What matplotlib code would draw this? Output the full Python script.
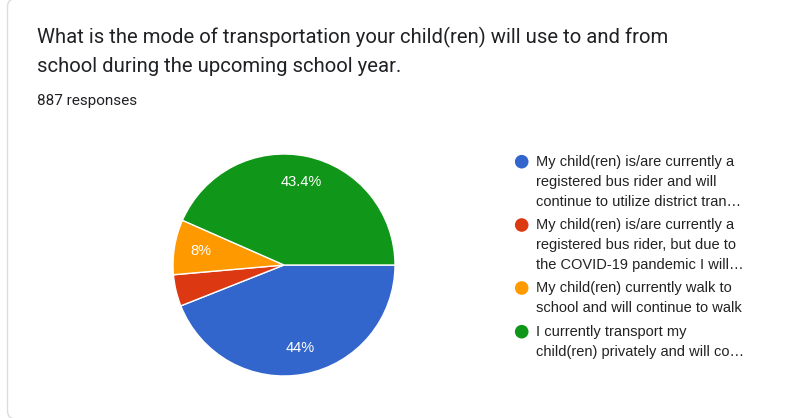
import matplotlib
matplotlib.use("Agg")
import matplotlib.pyplot as plt
from matplotlib.patches import FancyBboxPatch, Circle

W, H = 798, 418
DPI = 100

title_lines = ["What is the mode of transportation your child(ren) will use to and from",
               "school during the upcoming school year."]
subtitle = "887 responses"
categories = [
    ["My child(ren) is/are currently a", "registered bus rider and will", "continue to utilize district tran\u2026"],
    ["My child(ren) is/are currently a", "registered bus rider, but due to", "the COVID-19 pandemic I will\u2026"],
    ["My child(ren) currently walk to", "school and will continue to walk"],
    ["I currently transport my", "child(ren) privately and will co\u2026"],
]
values = [44.0, 4.6, 8.0, 43.4]
colors = ["#3366cc", "#dc3912", "#ff9900", "#109618"]

plt.rcParams['font.family'] = ['Roboto', 'DejaVu Sans']
ARIAL = ['Liberation Sans', 'DejaVu Sans']

fig = plt.figure(figsize=(W / DPI, H / DPI), dpi=DPI)
fig.patch.set_facecolor("white")

# card border (top, right and bottom edges fall just outside the image)
card = FancyBboxPatch((0.075, -0.008), 9.0, 4.2, boxstyle="round,pad=0,rounding_size=0.08",
                      transform=fig.dpi_scale_trans, facecolor="white", edgecolor="#dadce0",
                      linewidth=1.0, zorder=-5)
fig.patches.append(card)

def px(x, y):
    return x / W, 1 - y / H

# title
fig.text(*px(37, 37), title_lines[0], fontsize=14.6, color="#202124", va="center", ha="left")
fig.text(*px(37, 67), title_lines[1], fontsize=14.6, color="#202124", va="center", ha="left")
fig.text(*px(37, 101), subtitle, fontsize=11, color="#202124", va="center", ha="left")

# pie
cx, cy, r = 284, 265, 111
ax = fig.add_axes([(cx - r) / W, (H - cy - r) / H, 2 * r / W, 2 * r / H], zorder=2)

def fmt(p):
    if p < 5:
        return ""
    s = f"{p:.1f}"
    if s.endswith(".0"):
        s = s[:-2]
    return s + "%"

wedges, texts, autotexts = ax.pie(values, colors=colors, startangle=0, counterclock=False,
                                  autopct=fmt, pctdistance=0.76,
                                  wedgeprops=dict(edgecolor="white", linewidth=1.0),
                                  textprops=dict(color="white", fontsize=10.5, family=ARIAL))
ax.set_aspect("equal")
ax.set_xlim(-1, 1)
ax.set_ylim(-1, 1)

# legend
entry_y = [161.7, 225, 288, 331.7]
for lines, y0, c in zip(categories, entry_y, colors):
    fig.patches.append(Circle((521.7 / DPI, (H - y0) / DPI), 0.068,
                              transform=fig.dpi_scale_trans, facecolor=c, edgecolor="none"))
    for i, line in enumerate(lines):
        fig.text(*px(536, y0 + 20 * i), line, fontsize=10.5, color="#222222", va="center",
                 ha="left", family=ARIAL)

fig.savefig("out.png", dpi=DPI)
